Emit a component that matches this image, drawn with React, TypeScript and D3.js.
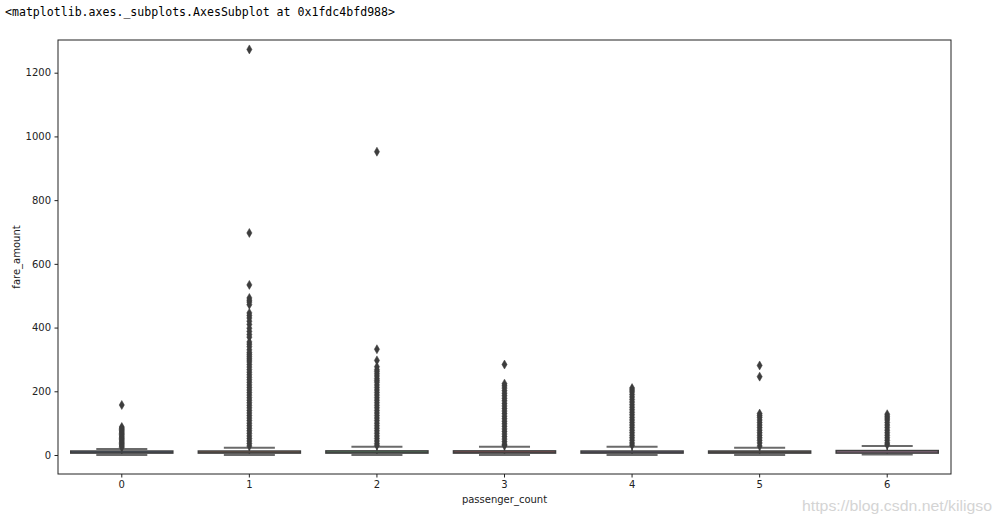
import React, { useEffect, useRef } from 'react';
import * as d3 from 'd3';

// passenger_count categories
const categories = ['0', '1', '2', '3', '4', '5', '6'];

// box statistics per category (fare_amount)
const q1 = [6, 6, 6, 6, 6, 6, 6];
const median = [8.5, 8.5, 8.5, 8.5, 8.5, 8.5, 9.5];
const q3 = [12.5, 12.5, 13, 13, 12.5, 12.5, 14];
const whiskerLow = [0, 0, 0, 0, 0, 0, 1.5];
const whiskerHigh = [19, 23, 26, 26, 26, 23, 28];

const fliers0 = [157, 88, 84, 80, 76, 72, 68, 64, 60, 56, 52, 48, 44, 40, 36, 32, 28, 24];
const fliers1 = [1273, 697, 534, 493, 486, 480, 472, 446, 438, 430, 420, 410, 398, 388, 378, 370, 355, 348, 340,
  330, 322, 316, 310, 304, 298, 292, 284, 276, 268, 260, 252, 244, 236, 228, 220, 212, 204, 196, 188, 180, 172,
  164, 156, 148, 140, 132, 124, 116, 108, 100, 92, 84, 76, 68, 60, 52, 44, 36, 28];
const fliers2 = [952, 332, 297, 277, 268, 262, 255, 248, 240, 234, 228, 220, 212, 204, 196, 188, 180, 172, 164,
  156, 148, 140, 132, 124, 116, 108, 100, 92, 84, 76, 68, 60, 52, 44, 36, 30];
const fliers3 = [284, 224, 217, 210, 202, 194, 186, 178, 170, 162, 154, 146, 138, 130, 122, 114, 106, 98, 90,
  82, 74, 66, 58, 50, 42, 34, 30];
const fliers4 = [210, 204, 198, 190, 182, 174, 166, 158, 150, 142, 134, 126, 118, 110, 102, 94, 86, 78, 70,
  62, 54, 46, 38, 31];
const fliers5 = [281, 246, 130, 124, 118, 110, 102, 94, 86, 78, 70, 62, 54, 46, 38, 28];
const fliers6 = [128, 122, 116, 110, 102, 94, 86, 78, 70, 62, 54, 46, 38, 32];
const fliers = [fliers0, fliers1, fliers2, fliers3, fliers4, fliers5, fliers6];

const yTicks = [0, 200, 400, 600, 800, 1000, 1200];
const boxColors = ['#5975a4', '#cc8963', '#5f9e6e', '#b55d60', '#857aab', '#8d7866', '#d095bf'];

function BoxChart() {
  const ref = useRef<SVGSVGElement | null>(null);

  useEffect(() => {
    if (!ref.current) return;
    const svg = d3.select(ref.current);
    svg.selectAll('*').remove();

    const W = 1001;
    const H = 523;
    const left = 58, right = 951, top = 40, bottom = 474;

    svg.attr('width', W).attr('height', H);
    svg.append('rect').attr('width', W).attr('height', H).attr('fill', '#fff');

    // repr line printed by the notebook
    svg.append('text')
      .attr('x', 5)
      .attr('y', 16)
      .attr('font-family', 'DejaVu Sans Mono, monospace')
      .attr('font-size', 12)
      .attr('textLength', 390)
      .attr('lengthAdjust', 'spacingAndGlyphs')
      .attr('fill', '#000')
      .text('<matplotlib.axes._subplots.AxesSubplot at 0x1fdc4bfd988>');

    const x = d3.scaleBand().domain(categories).range([left, right]).padding(0);
    const y = d3.scaleLinear().domain([-59.6, 1302.6]).range([bottom, top]);

    const g = svg.append('g');
    const boxW = x.bandwidth() * 0.8;
    const capW = boxW / 2;
    const edge = '#3f3f3f';

    categories.forEach((c, i) => {
      const cx = (x(c) as number) + x.bandwidth() / 2;

      // whiskers
      g.append('line').attr('x1', cx).attr('x2', cx)
        .attr('y1', y(q1[i])).attr('y2', y(whiskerLow[i]))
        .attr('stroke', edge).attr('stroke-width', 1.5);
      g.append('line').attr('x1', cx).attr('x2', cx)
        .attr('y1', y(q3[i])).attr('y2', y(whiskerHigh[i]))
        .attr('stroke', edge).attr('stroke-width', 1.5);

      // caps
      [whiskerLow[i], whiskerHigh[i]].forEach(v => {
        g.append('line')
          .attr('x1', cx - capW / 2).attr('x2', cx + capW / 2)
          .attr('y1', y(v)).attr('y2', y(v))
          .attr('stroke', '#6a6a6a').attr('stroke-width', 2);
      });

      // box
      g.append('rect')
        .attr('x', cx - boxW / 2)
        .attr('y', y(q3[i]))
        .attr('width', boxW)
        .attr('height', y(q1[i]) - y(q3[i]))
        .attr('fill', boxColors[i])
        .attr('stroke', edge)
        .attr('stroke-width', 1.5);

      g.append('line')
        .attr('x1', cx - boxW / 2).attr('x2', cx + boxW / 2)
        .attr('y1', y(median[i])).attr('y2', y(median[i]))
        .attr('stroke', edge).attr('stroke-width', 1);

      // fliers
      g.selectAll(null)
        .data(fliers[i])
        .join('path')
        .attr('transform', d => `translate(${cx},${y(d)})`)
        .attr('d', 'M0,-4.5L2.6,0L0,4.5L-2.6,0Z')
        .attr('fill', '#3d3d3d')
        .attr('stroke', '#3d3d3d')
        .attr('stroke-width', 0.5);
    });

    // axes
    const font = 'DejaVu Sans, sans-serif';
    const yAxis = svg.append('g')
      .attr('transform', `translate(${left},0)`)
      .call(d3.axisLeft(y).tickValues(yTicks).tickSize(3.5).tickPadding(3.5).tickFormat(d3.format('d')));
    yAxis.select('.domain').remove();
    yAxis.selectAll('line').attr('stroke', '#222');
    yAxis.selectAll('text').attr('font-family', font).attr('font-size', 10).attr('fill', '#222');

    const xAxis = svg.append('g')
      .attr('transform', `translate(0,${bottom})`)
      .call(d3.axisBottom(x).tickSize(3.5).tickPadding(3.5));
    xAxis.select('.domain').remove();
    xAxis.selectAll('line').attr('stroke', '#222');
    xAxis.selectAll('text').attr('font-family', font).attr('font-size', 10).attr('fill', '#222');

    // frame
    svg.append('rect')
      .attr('x', left).attr('y', top)
      .attr('width', right - left).attr('height', bottom - top)
      .attr('fill', 'none').attr('stroke', '#222').attr('stroke-width', 1);

    svg.append('text')
      .attr('x', (left + right) / 2)
      .attr('y', 503)
      .attr('text-anchor', 'middle')
      .attr('font-family', font).attr('font-size', 10).attr('fill', '#222')
      .text('passenger_count');

    svg.append('text')
      .attr('transform', `translate(20,${(top + bottom) / 2}) rotate(-90)`)
      .attr('text-anchor', 'middle')
      .attr('font-family', font).attr('font-size', 10).attr('fill', '#222')
      .text('fare_amount');

    // watermark
    svg.append('text')
      .attr('x', 802)
      .attr('y', 511)
      .attr('font-family', 'Liberation Sans, Arial, sans-serif')
      .attr('font-size', 15)
      .attr('textLength', 190)
      .attr('lengthAdjust', 'spacingAndGlyphs')
      .attr('fill', '#d4d4d4')
      .text('https://blog.csdn.net/kiligso');
  }, []);

  return <svg ref={ref} style={{ display: 'block' }} />;
}

export default function App() {
  return (
    <div style={{ position: 'absolute', left: 0, top: 0 }}>
      <BoxChart />
    </div>
  );
}
